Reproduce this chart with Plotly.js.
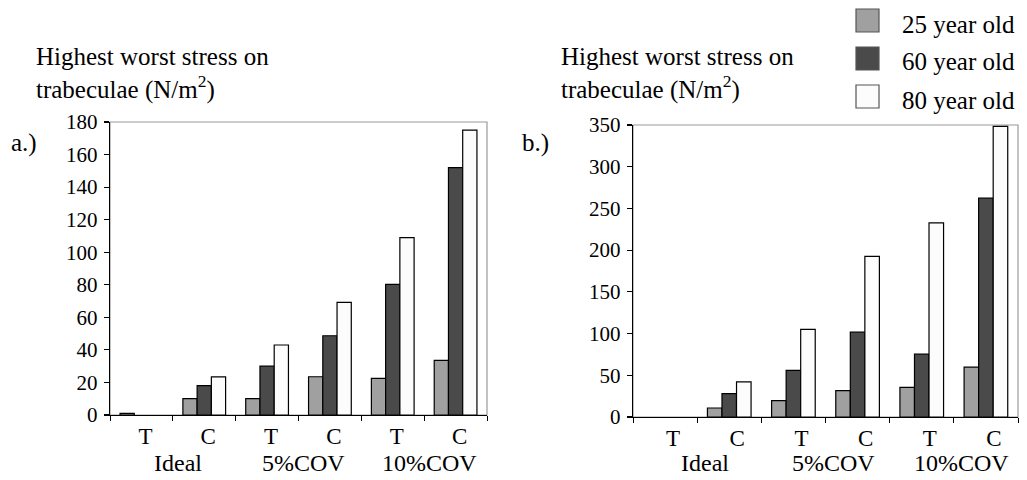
<!DOCTYPE html>
<html><head><meta charset="utf-8">
<script src="https://cdn.plot.ly/plotly-3.0.1.min.js"></script>
<style>html,body{margin:0;padding:0;background:#fff}#chart{width:1027px;height:480px}</style>
</head><body><div id="chart"></div>
<script>
const subLabels = ["T","C","T","C","T","C"];
const groupLabels = ["Ideal","5%COV","10%COV"];
const seriesNames = ["25 year old","60 year old","80 year old"];
const seriesColors = ["#a0a0a0","#4a4a4a","#fcfcfc"];
// panel a.)
const a25 = [1, 10, 10, 23.5, 22.5, 33.5];
const a60 = [0, 18, 30, 48.7, 80.3, 152];
const a80 = [0, 23.4, 43, 69.2, 109, 175];
// panel b.)
const b25 = [0, 10.8, 19.6, 31.6, 35.6, 59.7];
const b60 = [0, 28, 56, 101.7, 75.3, 262.3];
const b80 = [0, 42, 105, 192.6, 232.7, 348.4];
const yTitle = "Highest worst stress on<br>trabeculae (N/m<sup>2</sup>)";

const xs = subLabels.map((_, i) => i);
const FAM = '"Liberation Serif", "Times New Roman", serif';
const f = s => ({family: FAM, size: s, color: "#000"});

function bars(vals, idx, xa, ya) {
  return {type: "bar", x: xs, y: vals, name: seriesNames[idx], xaxis: xa, yaxis: ya,
    marker: {color: seriesColors[idx], line: {color: "#000", width: vals.map(v => v === 0 ? 0 : 1.2)}},
    showlegend: false, hoverinfo: "none"};
}
const data = [
  bars(a25,0,"x","y"), bars(a60,1,"x","y"), bars(a80,2,"x","y"),
  bars(b25,0,"x2","y2"), bars(b60,1,"x2","y2"), bars(b80,2,"x2","y2")
];

function xaxis(dom, anchor, shift) {
  return {domain: dom, anchor: anchor, range: [-0.5, 5.5], tickvals: xs, ticktext: subLabels, ticks: "",
    showline: true, linecolor: "#000", linewidth: 1.3, showgrid: false, zeroline: false,
    tickfont: f(23), fixedrange: true, ticklabelstandoff: 0, ticklabelshift: shift,
    minor: {tick0: 0.5, dtick: 1, ticks: "outside", ticklen: 5, tickcolor: "#000", tickwidth: 1, showgrid: false}};
}
function yaxis(dom, anchor, range, dtick) {
  return {domain: dom, anchor: anchor, range: range, dtick: dtick, ticks: "outside", ticklen: 5,
    tickcolor: "#000", tickwidth: 1.2, showline: true, linecolor: "#000", linewidth: 1.3,
    showgrid: false, zeroline: false, tickfont: f(21), fixedrange: true, ticklabelstandoff: 2};
}
const W = 1027, H = 480;
const px = v => v / W, py = v => 1 - v / H;

const annotations = [];
function txt(text, x, y, xanchor, size) {
  annotations.push({text: text, xref: "paper", yref: "paper", x: x, y: y,
    xanchor: xanchor, yanchor: "middle", showarrow: false, font: f(size), align: "left"});
}
txt(yTitle, px(34), py(73), "left", 25);
txt(yTitle, px(559), py(73), "left", 25);
txt("a.)", px(9), py(143), "left", 25);
txt("b.)", px(520), py(143), "left", 25);
groupLabels.forEach((g, i) => {
  [["x", 5], ["x2", 8]].forEach(([xr, sh]) => annotations.push({text: g, xref: xr, yref: "paper", x: 2 * i + 0.5, y: py(463), xshift: sh,
    xanchor: "center", yanchor: "middle", showarrow: false, font: f(24)}));
});
const shapes = [
  {type: "rect", xref: "x domain", yref: "y domain", x0: 0, x1: 1, y0: 0, y1: 1, layer: "below", line: {color: "#999", width: 1.2}},
  {type: "rect", xref: "x2 domain", yref: "y2 domain", x0: 0, x1: 1, y0: 0, y1: 1, layer: "below", line: {color: "#999", width: 1.2}}
];
const legY = [20, 58, 96];
seriesNames.forEach((n, i) => {
  shapes.push({type: "rect", xref: "paper", yref: "paper", x0: px(856), x1: px(879), y0: py(legY[i] + 12), y1: py(legY[i] - 11),
    fillcolor: seriesColors[i], line: {color: "#555", width: 1.2}});
  txt(n, px(900), py(legY[i] + 4), "left", 25);
});

const layout = {
  width: W, height: H, margin: {l: 0, r: 0, t: 0, b: 0},
  paper_bgcolor: "#fff", plot_bgcolor: "#fff", font: f(21),
  barmode: "group", bargap: 0.32, bargroupgap: 0, showlegend: false,
  xaxis: xaxis([px(110), px(487)], "y", 4),
  yaxis: yaxis([1 - 415 / H, 1 - 122 / H], "x", [0, 180], 20),
  xaxis2: xaxis([px(633), px(1018)], "y2", 8),
  yaxis2: yaxis([1 - 417 / H, 1 - 125 / H], "x2", [0, 350], 50),
  annotations: annotations, shapes: shapes
};
Plotly.newPlot("chart", data, layout, {staticPlot: true, displayModeBar: false});
</script></body></html>
